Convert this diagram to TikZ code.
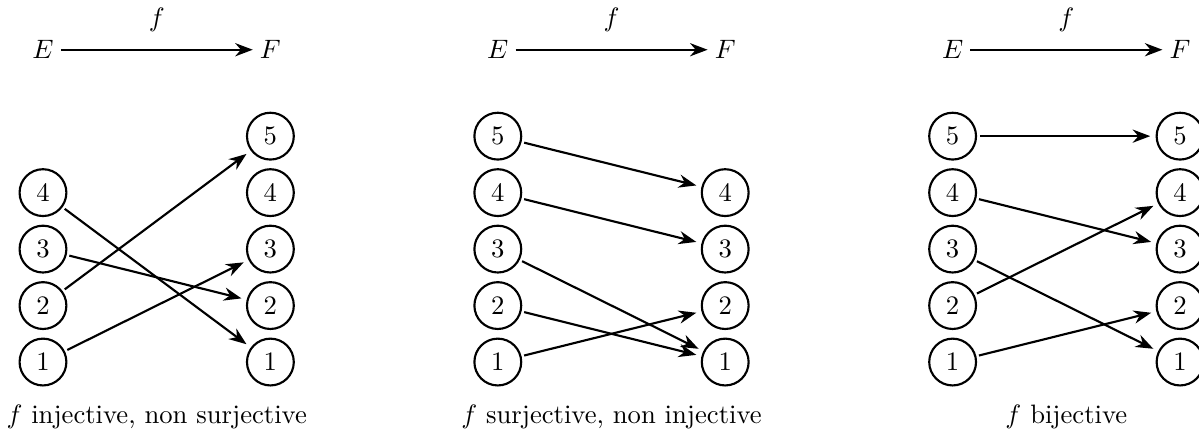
\documentclass[tikz,border=0pt]{standalone}
\usetikzlibrary{arrows.meta}
\begin{document}
\begin{tikzpicture}[
  el/.style={circle,draw,thick,inner sep=0.3333em},
  map/.style={thick,-{Stealth},shorten <=1pt,shorten >=2pt},
  lbl/.style={inner sep=2.5pt}
]
\useasboundingbox (-0.567,-0.923) rectangle (15.25,4.776);
% panel 1
\node[lbl] (E1) at (0,4.12) {$E$};
\node[lbl] (F1) at (3,4.12) {$F$};
\draw[map,shorten <=0pt,shorten >=0pt] (E1) -- node[above=3pt] (f1) {$f$} (F1);
\foreach \i in {1,...,4} \node[el] (a\i) at (0,{(\i-1)*0.745}) {$\i$};
\foreach \i in {1,...,5} \node[el] (b\i) at (3,{(\i-1)*0.745}) {$\i$};
\draw[map] (a4) -- (b1);
\draw[map] (a3) -- (b2);
\draw[map] (a2) -- (b5);
\draw[map] (a1) -- (b3);
\node (c1) at (1.5,-0.73) {$f$ injective, non surjective};
% panel 2
\node[lbl] (E2) at (6,4.12) {$E$};
\node[lbl] (F2) at (9,4.12) {$F$};
\draw[map,shorten <=0pt,shorten >=0pt] (E2) -- node[above=3pt] (f2) {$f$} (F2);
\foreach \i in {1,...,5} \node[el] (p\i) at (6,{(\i-1)*0.745}) {$\i$};
\foreach \i in {1,...,4} \node[el] (q\i) at (9,{(\i-1)*0.745}) {$\i$};
\draw[map] (p5) -- (q4);
\draw[map] (p4) -- (q3);
\draw[map] (p3) -- (q1);
\draw[map] (p2) -- (q1);
\draw[map] (p1) -- (q2);
\node (c2) at (7.5,-0.73) {$f$ surjective, non injective};
% panel 3
\node[lbl] (E3) at (12,4.12) {$E$};
\node[lbl] (F3) at (15,4.12) {$F$};
\draw[map,shorten <=0pt,shorten >=0pt] (E3) -- node[above=3pt] (f3) {$f$} (F3);
\foreach \i in {1,...,5} \node[el] (u\i) at (12,{(\i-1)*0.745}) {$\i$};
\foreach \i in {1,...,5} \node[el] (v\i) at (15,{(\i-1)*0.745}) {$\i$};
\draw[map] (u5) -- (v5);
\draw[map] (u4) -- (v3);
\draw[map] (u3) -- (v1);
\draw[map] (u2) -- (v4);
\draw[map] (u1) -- (v2);
\node (c3) at (13.5,-0.73) {$f$ bijective};
\end{tikzpicture}
\end{document}
